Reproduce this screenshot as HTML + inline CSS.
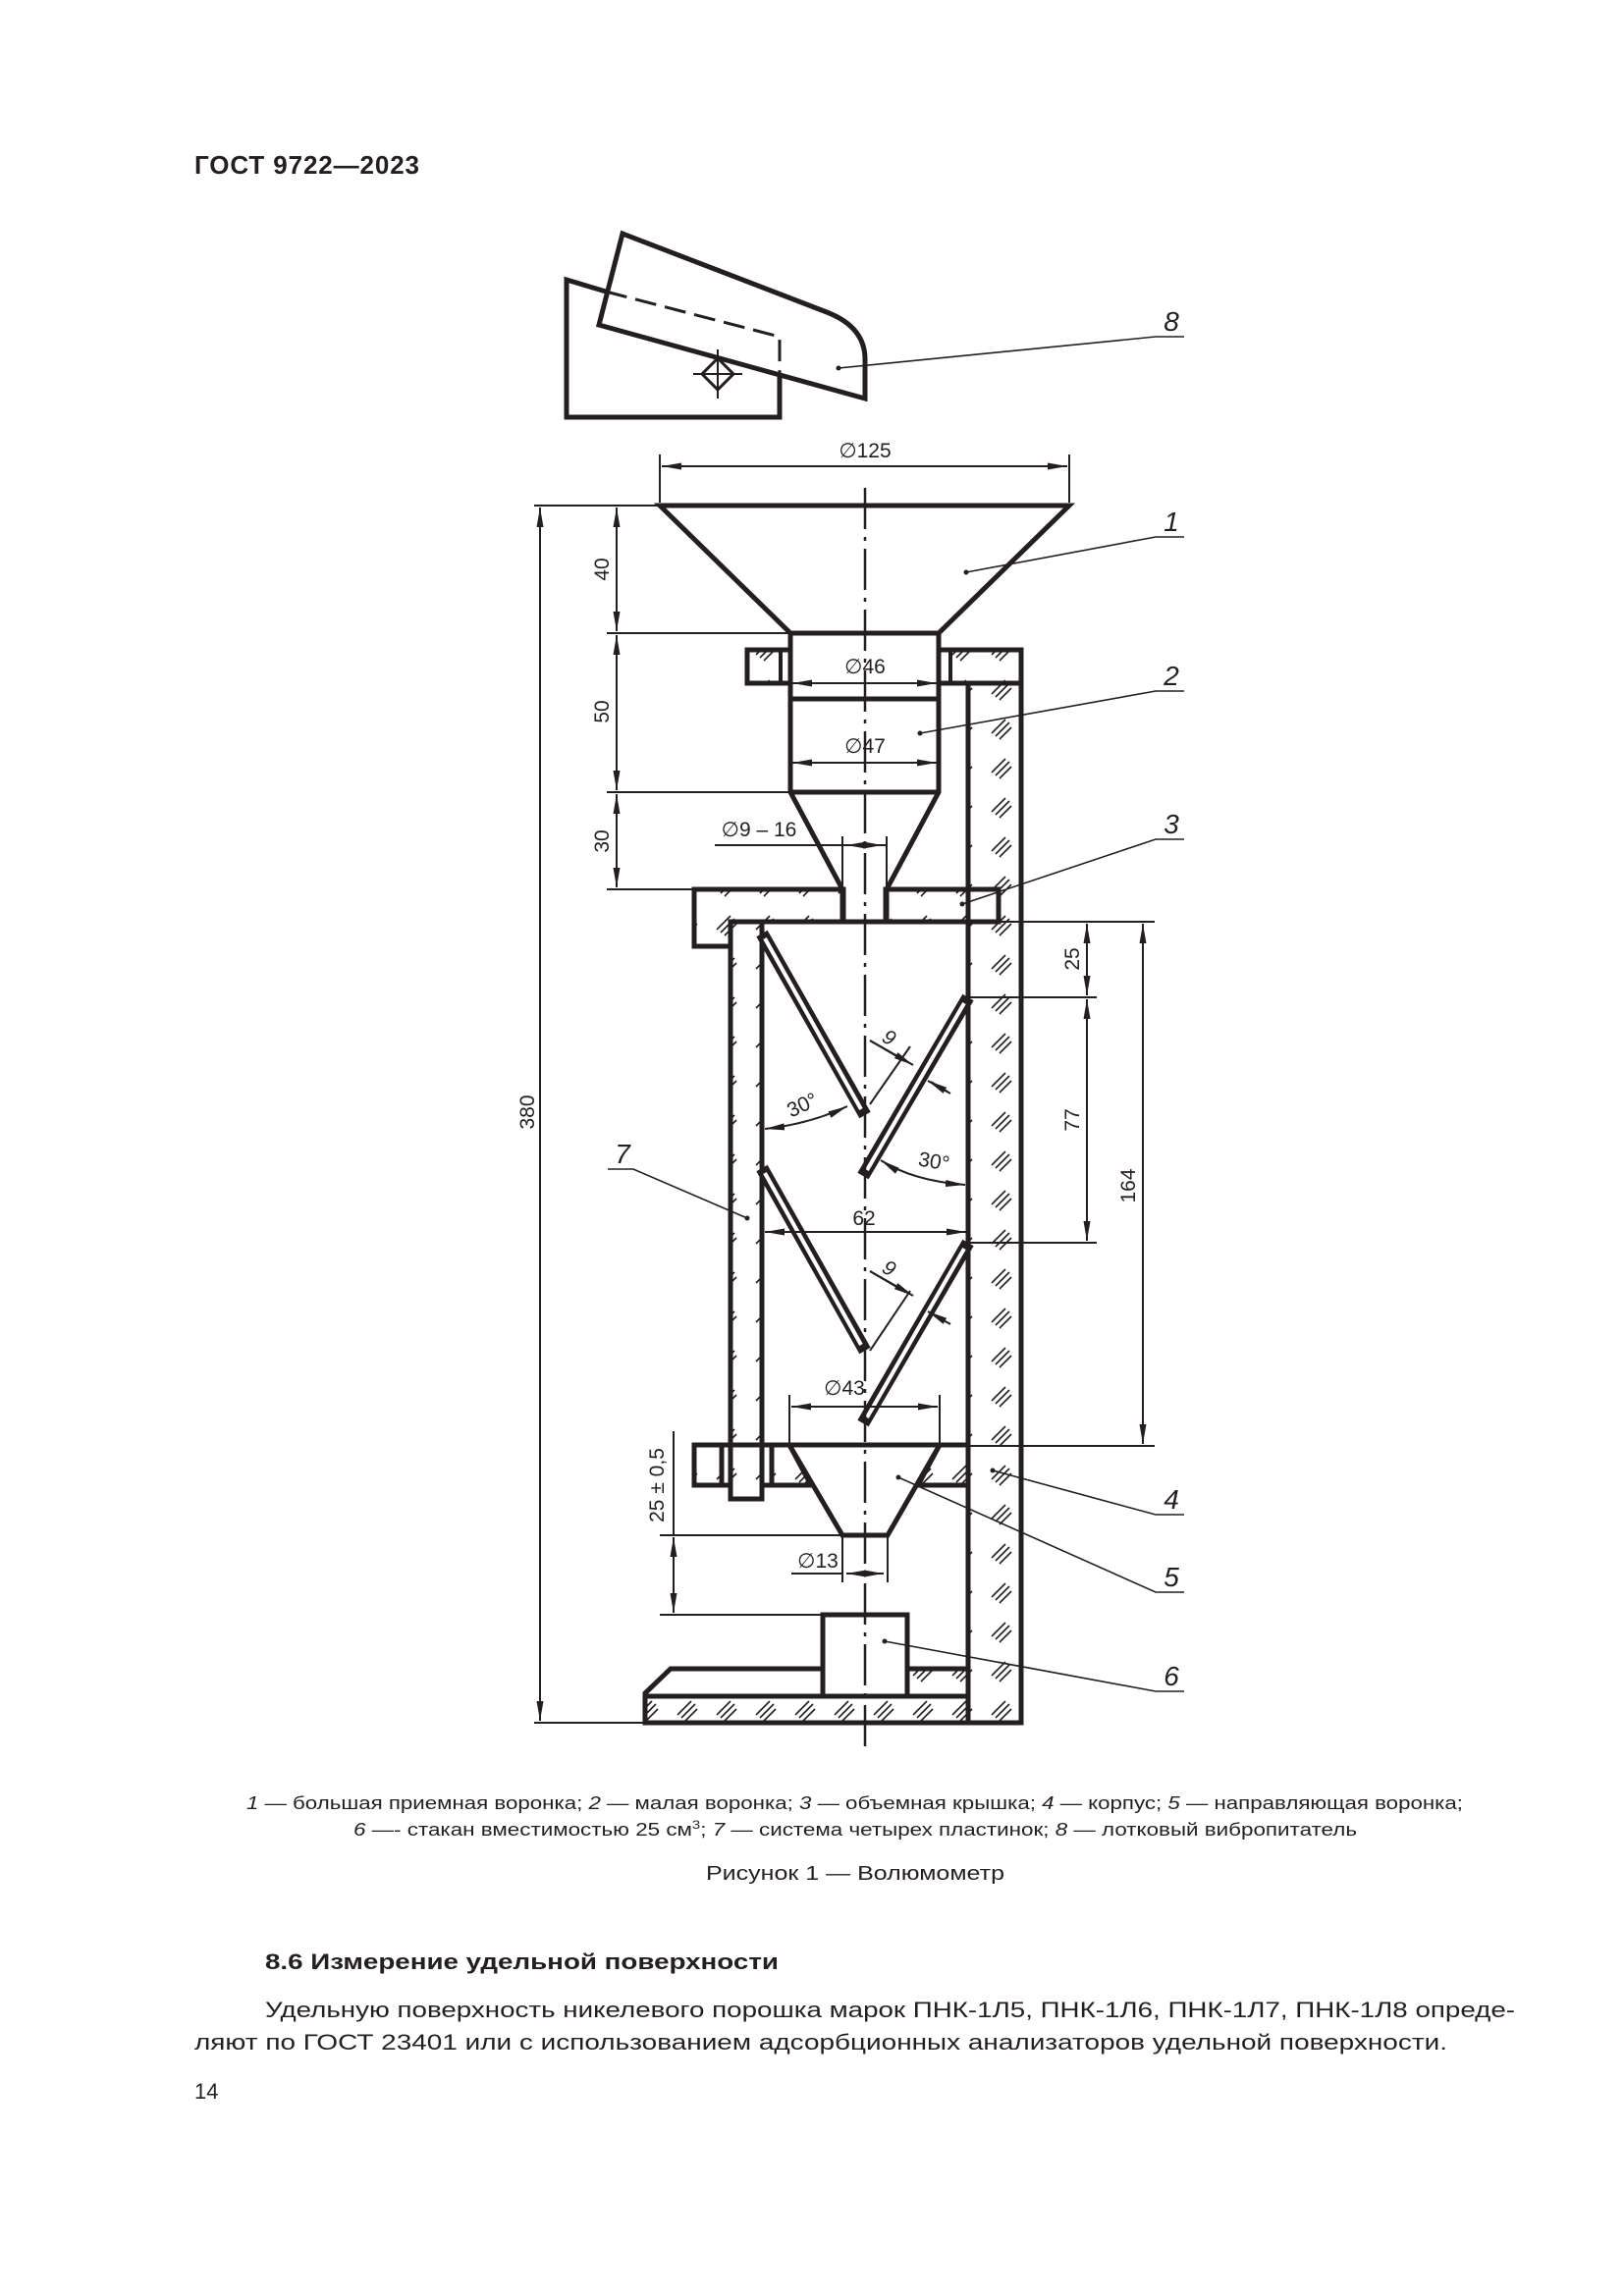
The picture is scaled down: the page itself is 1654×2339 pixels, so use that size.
<!DOCTYPE html>
<html><head><meta charset="utf-8"><style>
html,body{margin:0;padding:0;background:#fff;}
svg{display:block;}
text{font-family:"Liberation Sans",sans-serif;fill:#231f20;}
</style></head><body>
<svg xmlns="http://www.w3.org/2000/svg" width="1654" height="2339" viewBox="0 0 1654 2339">
<defs>
<pattern id="h" patternUnits="userSpaceOnUse" width="40" height="40">
<path d="M10 27 L24 13 M14 30 L28 16 M18 33 L30 21" stroke="#231f20" stroke-width="1.6"/>
</pattern>
<marker id="a" viewBox="0 0 20 10" refX="20" refY="5" markerWidth="20" markerHeight="10" markerUnits="userSpaceOnUse" orient="auto-start-reverse">
<path d="M0 1.5 L20 5 L0 8.5 Z" fill="#231f20"/>
</marker>
</defs>
<rect width="1654" height="2339" fill="#fff"/>

<text x="198" y="177" font-size="26" font-weight="bold" textLength="229">ГОСТ 9722—2023</text>

<g stroke="#231f20" fill="none" stroke-linejoin="miter">
<!-- feeder 8 -->
<path d="M617 297 L577 285 L577 425 L794 425 L794 382" stroke-width="5"/>
<path d="M617 297 L794 343 L794 382" stroke-width="3" stroke-dasharray="22 9"/>
<path d="M634 238 L842 318 Q881 333 881 366 L881 406 L610 331 Z" stroke-width="5"/>
<path d="M731 365 L747 381 L731 397 L715 381 Z" stroke-width="3"/>
<path d="M706 381 H756 M731 356 V406" stroke-width="2"/>

<!-- hatched parts -->
<g fill="url(#h)" stroke-width="5">
<rect x="986" y="696" width="54" height="1059"/>
<rect x="761" y="662" width="44" height="34"/>
<rect x="956" y="662" width="84" height="34"/>
<path d="M707 906 H859 V939 H744 V964 H707 Z"/>
<path d="M902 906 H1017 V939 H902 Z"/>
<rect x="744" y="939" width="32" height="588"/>
<rect x="707" y="1472" width="28" height="41"/>
<path d="M786 1472 H804 L826 1513 H786 Z"/>
<path d="M957 1472 H986 V1513 H935 Z"/>
<rect x="657" y="1728" width="329" height="27"/>
<rect x="924" y="1700" width="62" height="28"/>
</g>
<path d="M795 662 V696 M968 662 V696" stroke-width="4"/>
<path d="M735 1472 H786 M735 1513 H744 M776 1513 H786" stroke-width="5"/>
<path d="M777 1472 V1513" stroke-width="3"/>

<!-- funnel 1 -->
<path d="M672 515 H1089 L956 645 H805 Z" stroke-width="5" fill="#fff"/>
<!-- cylinder 2 -->
<path d="M805 645 V807 L858 906 V939 M956 645 V807 L903 906 V939 M805 712 H956 M805 807 H956" stroke-width="5"/>
<!-- chamber -->
<path d="M744 939 H986" stroke-width="5"/>
<path d="M776 939 V1472 M986 939 V1472" stroke-width="5"/>
<!-- funnel 5 -->
<path d="M804 1472 H957 L904 1564 H858 Z" stroke-width="5" fill="#fff"/>
<path d="M776 1472 H986" stroke-width="5"/>
<!-- cup and base -->
<rect x="838" y="1645" width="86" height="83" stroke-width="5" fill="#fff"/>
<path d="M657 1728 V1725 L683 1700 H838 M924 1700 H986" stroke-width="5"/>

<!-- plates -->
<g stroke-linecap="butt">
<path d="M776 951 L881 1136 M986 1016 L879 1198 M776 1190 L881 1376 M986 1266 L879 1450" stroke-width="13"/>
<path d="M779 956 L877 1130 M982 1022 L883 1192 M779 1195 L877 1370 M982 1272 L883 1444" stroke-width="4" stroke="#fff"/>
</g>

<!-- centerline -->
<path d="M881 497 V1783" stroke-width="2.5" stroke-dasharray="42 8 4 8"/>

<!-- dimensions -->
<g stroke-width="2">
<path d="M672 463 V512 M1089 463 V512"/>
<path d="M674 475 H1087" marker-start="url(#a)" marker-end="url(#a)"/>
<path d="M544 515 H670 M618 645 H805 M618 807 H804 M618 906 H707 M544 1755 H657"/>
<path d="M550 517 V1753" marker-start="url(#a)" marker-end="url(#a)"/>
<path d="M628 517 V643" marker-start="url(#a)" marker-end="url(#a)"/>
<path d="M628 647 V805" marker-start="url(#a)" marker-end="url(#a)"/>
<path d="M628 809 V904" marker-start="url(#a)" marker-end="url(#a)"/>
<path d="M807 696 H954" marker-start="url(#a)" marker-end="url(#a)"/>
<path d="M807 777 H954" marker-start="url(#a)" marker-end="url(#a)"/>
<path d="M858 852 V904 M903 852 V904 M728 861 H903"/>
<path d="M862 861 H899" marker-start="url(#a)" marker-end="url(#a)"/>
<path d="M1017 939 H1176 M986 1016 H1117 M986 1266 H1117 M986 1473 H1176"/>
<path d="M1107 941 V1014" marker-start="url(#a)" marker-end="url(#a)"/>
<path d="M1107 1018 V1264" marker-start="url(#a)" marker-end="url(#a)"/>
<path d="M1164 941 V1471" marker-start="url(#a)" marker-end="url(#a)"/>
<path d="M779 1255 H984" marker-start="url(#a)" marker-end="url(#a)"/>
<path d="M804 1421 V1472 M957 1421 V1472"/>
<path d="M806 1433 H955" marker-start="url(#a)" marker-end="url(#a)"/>
<path d="M672 1564 H858 M672 1645 H838 M686 1458 V1564"/>
<path d="M686 1566 V1643" marker-start="url(#a)" marker-end="url(#a)"/>
<path d="M858 1564 V1612 M904 1564 V1612 M806 1603 H858"/>
<path d="M862 1603 H900" marker-start="url(#a)" marker-end="url(#a)"/>
<!-- 30 deg arcs -->
<path d="M779 1150 Q825 1145 863 1127" marker-start="url(#a)" marker-end="url(#a)"/>
<path d="M897 1182 Q930 1203 983 1207" marker-start="url(#a)" marker-end="url(#a)"/>
<!-- 9 dims -->
<path d="M886 1125 L927 1066 M886 1060 L915 1077 M965 1112 L948 1102"/>
<path d="M886 1060 L930 1085" marker-end="url(#a)"/>
<path d="M968 1114 L945 1101" marker-end="url(#a)"/>
<path d="M886 1376 L927 1315 M886 1295 L915 1312"/>
<path d="M886 1295 L930 1320" marker-end="url(#a)"/>
<path d="M968 1349 L945 1336" marker-end="url(#a)"/>
</g>

<!-- leaders -->
<g stroke-width="1.6">
<path d="M854 375 L1177 343 H1206"/>
<path d="M984 583 L1177 547 H1206"/>
<path d="M937 747 L1177 704 H1206"/>
<path d="M980 921 L1177 855 H1206"/>
<path d="M761 1241 L645 1191 H619"/>
<path d="M1011 1498 L1177 1543 H1206"/>
<path d="M915 1505 L1177 1622 H1206"/>
<path d="M901 1672 L1177 1723 H1206"/>
</g>
</g>
<g fill="#231f20">
<circle cx="854" cy="375" r="2.5"/><circle cx="984" cy="583" r="2.5"/><circle cx="937" cy="747" r="2.5"/><circle cx="980" cy="921" r="2.5"/><circle cx="761" cy="1241" r="2.5"/><circle cx="1011" cy="1498" r="2.5"/><circle cx="915" cy="1505" r="2.5"/><circle cx="901" cy="1672" r="2.5"/>
</g>

<!-- dimension text -->
<g font-size="21" text-anchor="middle">
<text x="881" y="466">∅125</text>
<text x="881" y="686">∅46</text>
<text x="881" y="767">∅47</text>
<text x="773" y="852">∅9 – 16</text>
<text x="880" y="1248">62</text>
<text x="860" y="1421">∅43</text>
<text x="833" y="1597">∅13</text>
<text transform="translate(620 580) rotate(-90)">40</text>
<text transform="translate(620 725) rotate(-90)">50</text>
<text transform="translate(620 857) rotate(-90)">30</text>
<text transform="translate(544 1133) rotate(-90)">380</text>
<text transform="translate(1099 977) rotate(-90)">25</text>
<text transform="translate(1099 1141) rotate(-90)">77</text>
<text transform="translate(1156 1208) rotate(-90)">164</text>
<text transform="translate(676 1513) rotate(-90)">25 ± 0,5</text>
<text transform="translate(820 1132) rotate(-25)">30°</text>
<text transform="translate(950 1190) rotate(10)">30°</text>
<text transform="translate(902 1063) rotate(30)" font-style="italic">9</text>
<text transform="translate(902 1298) rotate(30)" font-style="italic">9</text>
</g>
<g font-size="28" font-style="italic" text-anchor="middle">
<text x="1193" y="337">8</text>
<text x="1193" y="541">1</text>
<text x="1193" y="698">2</text>
<text x="1193" y="849">3</text>
<text x="634" y="1185">7</text>
<text x="1193" y="1537">4</text>
<text x="1193" y="1616">5</text>
<text x="1193" y="1717">6</text>
</g>

<!-- captions -->
<text x="251" y="1843" font-size="18" textLength="1239" lengthAdjust="spacingAndGlyphs"><tspan font-style="italic">1</tspan> — большая приемная воронка; <tspan font-style="italic">2</tspan> — малая воронка; <tspan font-style="italic">3</tspan> — объемная крышка; <tspan font-style="italic">4</tspan> — корпус; <tspan font-style="italic">5</tspan> — направляющая воронка;</text>
<text x="360" y="1870" font-size="18" textLength="1022" lengthAdjust="spacingAndGlyphs"><tspan font-style="italic">6</tspan> —- стакан вместимостью 25 см<tspan font-size="12" dy="-7">3</tspan><tspan dy="7">; </tspan><tspan font-style="italic">7</tspan> — система четырех пластинок; <tspan font-style="italic">8</tspan> — лотковый вибропитатель</text>
<text x="719" y="1915" font-size="20" textLength="304" lengthAdjust="spacingAndGlyphs">Рисунок 1 — Волюмометр</text>
<text x="270" y="2006" font-size="22" font-weight="bold" textLength="523" lengthAdjust="spacingAndGlyphs">8.6 Измерение удельной поверхности</text>
<text x="270" y="2055" font-size="22" textLength="1273" lengthAdjust="spacingAndGlyphs">Удельную поверхность никелевого порошка марок ПНК-1Л5, ПНК-1Л6, ПНК-1Л7, ПНК-1Л8 опреде-</text>
<text x="198" y="2088" font-size="22" textLength="1276" lengthAdjust="spacingAndGlyphs">ляют по ГОСТ 23401 или с использованием адсорбционных анализаторов удельной поверхности.</text>
<text x="198" y="2138" font-size="22">14</text>
</svg>
</body></html>
